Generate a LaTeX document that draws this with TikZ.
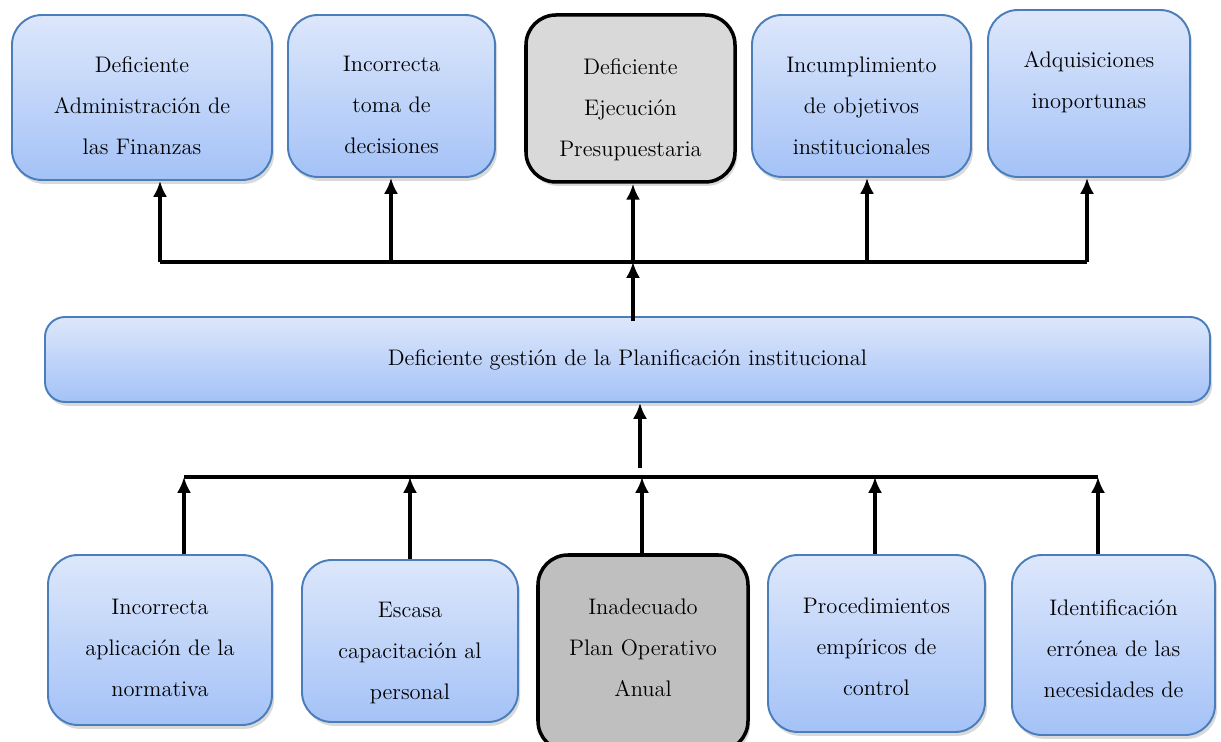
\documentclass[tikz,border=0pt]{standalone}
\usepackage{fontspec}
\usetikzlibrary{positioning,shadows,arrows.meta}
\definecolor{boxline}{HTML}{4A7EBB}
\definecolor{boxtop}{HTML}{DDE7FB}
\definecolor{boxbot}{HTML}{A4C2F7}
\tikzset{
  >={Latex[length=9pt,width=8pt]},
}
\tikzstyle{every node}=[font=\rmfamily\fontsize{12.8}{23.3}\selectfont]
\tikzstyle{box}=[draw=boxline,line width=1.1pt,rounded corners=0.6cm,
  top color=boxtop,bottom color=boxbot,
  drop shadow={shadow xshift=1.2pt,shadow yshift=-2.2pt,opacity=.3}]
\tikzstyle{keybox}=[draw=black,line width=2pt,rounded corners=0.6cm,
  drop shadow={shadow xshift=1.2pt,shadow yshift=-2.2pt,opacity=.3}]
\tikzstyle{boxtext}=[align=center,inner sep=0pt,anchor=north]
\tikzstyle{link}=[line width=1.9pt]
\tikzstyle{arrow}=[line width=1.9pt,->]

\begin{document}
\begin{tikzpicture}[x=0.02cm,y=-0.02cm]
    \useasboundingbox (0,0) rectangle (1221,742);
    % effects (top row)
    \node[box,minimum width=260*0.02cm,minimum height=165*0.02cm] (t1) at (142,97.5) {};
    \node[box,minimum width=207*0.02cm,minimum height=162*0.02cm] (t2) at (391.5,96) {};
    \node[keybox,fill=black!15,minimum width=209*0.02cm,minimum height=167*0.02cm] (t3) at (630.5,98.5) {};
    \node[box,minimum width=219*0.02cm,minimum height=162*0.02cm] (t4) at (861.5,96) {};
    \node[box,minimum width=202*0.02cm,minimum height=167*0.02cm] (t5) at (1089,93.5) {};
    \node[boxtext] (t1txt) at ([yshift=-42*0.02cm]t1.north) {Deficiente\\Administración de\\las Finanzas};
    \node[boxtext] (t2txt) at ([yshift=-42*0.02cm]t2.north) {Incorrecta\\toma de\\decisiones};
    \node[boxtext] (t3txt) at ([yshift=-45*0.02cm]t3.north) {Deficiente\\Ejecución\\Presupuestaria};
    \node[boxtext] (t4txt) at ([yshift=-43*0.02cm]t4.north) {Incumplimiento\\de objetivos\\institucionales};
    \node[boxtext] (t5txt) at ([yshift=-42*0.02cm]t5.north) {Adquisiciones\\inoportunas};
    % problem
    \node[box,rounded corners=0.4cm,minimum width=1165*0.02cm,minimum height=85*0.02cm] (mid) at (627.5,359.5)
      {Deficiente gestión de la Planificación institucional};
    % causes (bottom row)
    \node[box,minimum width=224*0.02cm,minimum height=170*0.02cm] (b1) at (160,640) {};
    \node[box,minimum width=216*0.02cm,minimum height=162*0.02cm] (b2) at (410,641) {};
    \node[keybox,fill=black!25,minimum width=210*0.02cm,minimum height=196*0.02cm] (b3) at (643,653) {};
    \node[box,minimum width=217*0.02cm,minimum height=177*0.02cm] (b4) at (876.5,643.5) {};
    \node[box,minimum width=203*0.02cm,minimum height=180*0.02cm] (b5) at (1113.5,645) {};
    \node[boxtext] (b1txt) at ([yshift=-45*0.02cm]b1.north) {Incorrecta\\aplicación de la\\normativa};
    \node[boxtext] (b2txt) at ([yshift=-43*0.02cm]b2.north) {Escasa\\capacitación al\\personal};
    \node[boxtext] (b3txt) at ([yshift=-45*0.02cm]b3.north) {Inadecuado\\Plan Operativo\\Anual};
    \node[boxtext] (b4txt) at ([yshift=-44*0.02cm]b4.north) {Procedimientos\\empíricos de\\control};
    \node[boxtext] (b5txt) at ([yshift=-45*0.02cm]b5.north) {Identificación\\errónea de las\\necesidades de};
    % upper bus
    \coordinate (u1) at (160,262);
    \coordinate (u2) at (391,262);
    \coordinate (u3) at (633,262);
    \coordinate (u4) at (867,262);
    \coordinate (u5) at (1087,262);
    \draw[link] (u1) -- (u5);
    \draw[arrow] (u1) -- (u1 |- t1.south);
    \draw[arrow] (u2) -- (u2 |- t2.south);
    \draw[arrow] (u3) -- (u3 |- t3.south);
    \draw[arrow] (u4) -- (u4 |- t4.south);
    \draw[arrow] (u5) -- (u5 |- t5.south);
    \draw[arrow] ([yshift=-5*0.02cm]mid.north -| u3) -- (u3);
    % lower bus
    \coordinate (l1) at (184,477);
    \coordinate (l2) at (410,477);
    \coordinate (l3) at (642,477);
    \coordinate (l4) at (875,477);
    \coordinate (l5) at (1098,477);
    \coordinate (lm) at (640,468);
    \draw[link] (l1) -- (l5);
    \draw[arrow] (lm) -- (lm |- mid.south);
    \draw[arrow] (l1 |- b1.north) -- (l1);
    \draw[arrow] (l2 |- b2.north) -- (l2);
    \draw[arrow] (l3 |- b3.north) -- (l3);
    \draw[arrow] (l4 |- b4.north) -- (l4);
    \draw[arrow] (l5 |- b5.north) -- (l5);
\end{tikzpicture}
\end{document}
